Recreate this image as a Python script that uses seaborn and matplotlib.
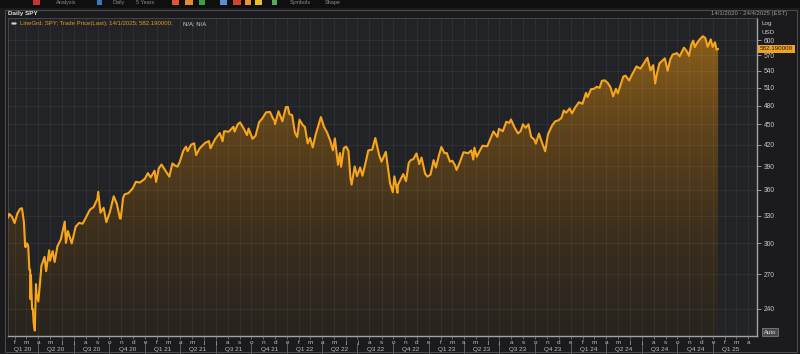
import warnings
import numpy as np
import pandas as pd
import matplotlib
matplotlib.use("Agg")
import matplotlib.pyplot as plt
import matplotlib.ticker as mticker
import matplotlib.transforms as mtransforms
from matplotlib.colors import LinearSegmentedColormap
from matplotlib.patches import Rectangle
import seaborn as sns

# ---------------- data ----------------
dates = [
    "2020-01-14", "2020-01-17", "2020-01-24", "2020-01-31", "2020-02-07", "2020-02-14", "2020-02-19",
    "2020-02-24", "2020-02-27", "2020-02-28", "2020-03-03", "2020-03-06", "2020-03-09", "2020-03-11",
    "2020-03-12", "2020-03-13", "2020-03-16", "2020-03-18", "2020-03-20", "2020-03-23", "2020-03-26",
    "2020-03-27", "2020-04-01", "2020-04-06", "2020-04-09", "2020-04-17", "2020-04-21", "2020-04-29",
    "2020-05-01", "2020-05-08", "2020-05-13", "2020-05-20", "2020-05-29", "2020-06-08", "2020-06-11",
    "2020-06-16", "2020-06-26", "2020-07-06", "2020-07-15", "2020-07-24", "2020-07-31", "2020-08-12",
    "2020-08-21", "2020-08-31", "2020-09-02", "2020-09-08", "2020-09-16", "2020-09-23", "2020-10-02",
    "2020-10-12", "2020-10-20", "2020-10-28", "2020-10-30", "2020-11-05", "2020-11-09", "2020-11-19",
    "2020-11-30", "2020-12-08", "2020-12-18", "2020-12-31",
    "2021-01-08", "2021-01-15", "2021-01-25", "2021-01-29", "2021-02-05", "2021-02-12", "2021-02-25",
    "2021-03-04", "2021-03-12", "2021-03-18", "2021-03-25", "2021-03-31", "2021-04-09", "2021-04-16",
    "2021-04-20", "2021-04-29", "2021-05-07", "2021-05-12", "2021-05-21", "2021-06-04", "2021-06-14",
    "2021-06-18", "2021-06-30", "2021-07-12", "2021-07-19", "2021-07-23", "2021-08-04", "2021-08-16",
    "2021-08-19", "2021-08-27", "2021-09-02", "2021-09-10", "2021-09-20", "2021-09-24", "2021-10-04",
    "2021-10-12", "2021-10-21", "2021-10-29", "2021-11-08", "2021-11-18", "2021-11-26", "2021-11-30",
    "2021-12-01", "2021-12-10", "2021-12-20", "2021-12-29",
    "2022-01-03", "2022-01-07", "2022-01-14", "2022-01-21", "2022-01-27", "2022-02-02", "2022-02-10",
    "2022-02-16", "2022-02-23", "2022-03-01", "2022-03-08", "2022-03-16", "2022-03-29", "2022-04-06",
    "2022-04-14", "2022-04-22", "2022-04-29", "2022-05-04", "2022-05-12", "2022-05-17", "2022-05-20",
    "2022-05-27", "2022-06-02", "2022-06-08", "2022-06-13", "2022-06-16", "2022-06-24", "2022-06-30",
    "2022-07-08", "2022-07-14", "2022-07-22", "2022-07-29", "2022-08-08", "2022-08-16", "2022-08-26",
    "2022-09-01", "2022-09-12", "2022-09-23", "2022-09-30", "2022-10-04", "2022-10-12", "2022-10-13",
    "2022-10-21", "2022-10-27", "2022-11-03", "2022-11-10", "2022-11-15", "2022-11-22", "2022-11-30",
    "2022-12-07", "2022-12-13", "2022-12-22", "2022-12-28",
    "2023-01-05", "2023-01-13", "2023-01-19", "2023-01-27", "2023-02-02", "2023-02-10", "2023-02-16",
    "2023-02-24", "2023-03-02", "2023-03-09", "2023-03-13", "2023-03-20", "2023-03-31", "2023-04-12",
    "2023-04-20", "2023-04-25", "2023-04-28", "2023-05-04", "2023-05-12", "2023-05-19", "2023-05-31",
    "2023-06-09", "2023-06-16", "2023-06-26", "2023-06-30", "2023-07-10", "2023-07-19", "2023-07-27",
    "2023-07-31", "2023-08-09", "2023-08-18", "2023-08-25", "2023-08-31", "2023-09-07", "2023-09-14",
    "2023-09-21", "2023-09-29", "2023-10-03", "2023-10-11", "2023-10-20", "2023-10-27", "2023-11-03",
    "2023-11-14", "2023-11-22", "2023-11-30", "2023-12-08", "2023-12-14", "2023-12-20", "2023-12-29",
    "2024-01-04", "2024-01-12", "2024-01-22", "2024-01-31", "2024-02-09", "2024-02-13", "2024-02-22",
    "2024-02-29", "2024-03-08", "2024-03-15", "2024-03-21", "2024-03-28", "2024-04-05", "2024-04-12",
    "2024-04-19", "2024-04-26", "2024-05-01", "2024-05-15", "2024-05-21", "2024-05-30", "2024-06-07",
    "2024-06-18", "2024-06-28", "2024-07-08", "2024-07-16", "2024-07-24", "2024-07-31", "2024-08-05",
    "2024-08-09", "2024-08-16", "2024-08-30", "2024-09-06", "2024-09-13", "2024-09-19", "2024-09-30",
    "2024-10-07", "2024-10-18", "2024-10-24", "2024-10-31", "2024-11-06", "2024-11-11", "2024-11-15",
    "2024-11-22", "2024-11-29", "2024-12-06", "2024-12-12", "2024-12-18", "2024-12-26", "2024-12-31",
    "2025-01-06", "2025-01-10", "2025-01-14",
]
prices = [
    327.5, 331.9, 328.8, 321.7, 332.2, 337.6, 338.3,
    322.4, 297.5, 296.3, 300.2, 297.5, 274.2, 274.4,
    248.1, 269.3, 239.9, 240.0, 228.8, 222.95, 261.2,
    253.4, 246.2, 264.9, 278.2, 286.6, 273.0, 293.2,
    282.8, 292.4, 281.6, 296.9, 304.3, 323.2, 300.6,
    313.0, 300.05, 317.6, 321.85, 320.9, 326.5, 336.8,
    339.5, 349.3, 357.7, 333.2, 338.8, 322.6, 333.8,
    352.4, 343.4, 326.7, 326.5, 350.2, 354.6, 356.2,
    362.1, 370.2, 369.2, 373.9,
    381.3, 375.7, 384.4, 370.1, 387.7, 392.6, 382.3,
    376.7, 394.1, 391.5, 389.7, 396.3, 411.5, 417.3,
    410.9, 420.1, 422.1, 405.4, 414.9, 422.6, 425.3,
    414.9, 428.1, 437.1, 425.0, 439.9, 439.0, 446.6,
    439.2, 450.3, 453.2, 445.4, 434.0, 443.9, 428.6,
    433.1, 453.6, 459.25, 469.0, 469.7, 459.0, 455.6,
    450.5, 470.7, 455.0, 477.5,
    477.7, 466.1, 464.7, 438.0, 431.2, 457.4, 449.3,
    446.1, 421.95, 430.0, 416.25, 435.6, 461.55, 446.5,
    437.8, 426.0, 412.0, 429.1, 392.3, 408.3, 389.6,
    415.3, 417.4, 411.2, 375.0, 366.65, 390.1, 377.3,
    388.7, 377.9, 395.1, 412.0, 413.0, 429.7, 405.3,
    396.4, 410.0, 368.0, 357.2, 377.1, 356.6, 366.0,
    374.3, 380.0, 371.0, 394.7, 398.5, 399.9, 407.7,
    393.2, 402.0, 380.7, 376.7,
    379.4, 398.5, 388.6, 405.7, 416.8, 408.0, 408.3,
    396.4, 397.8, 391.6, 385.4, 393.7, 409.4, 408.0,
    411.9, 399.4, 415.9, 403.1, 411.6, 418.6, 417.85,
    429.9, 439.5, 431.4, 443.3, 439.7, 454.2, 452.5,
    457.8, 445.75, 436.5, 440.0, 450.35, 444.85, 450.4,
    431.4, 427.5, 421.6, 436.3, 421.2, 410.7, 434.7,
    448.7, 455.0, 456.4, 460.2, 472.0, 468.3, 475.3,
    467.3, 476.7, 485.5, 482.9, 501.2, 494.1, 507.5,
    508.1, 511.7, 509.8, 522.2, 523.1, 518.4, 510.9,
    495.2, 508.3, 500.4, 529.8, 531.4, 522.6, 534.0,
    548.5, 544.2, 555.3, 564.9, 541.2, 550.8, 517.4,
    533.0, 554.3, 563.7, 540.4, 562.0, 571.0, 573.8,
    567.8, 584.6, 579.2, 568.6, 591.0, 598.8, 585.8,
    595.5, 602.6, 607.8, 604.3, 586.3, 601.3, 586.1,
    595.4, 580.5, 582.19,
]
y_ticks = [240, 270, 300, 330, 360, 390, 420, 450, 480, 510, 540, 570, 600]
month_letters = ["e", "f", "m", "a", "m", "j", "j", "a", "s", "o", "n", "d"]
x_start, x_end = "2020-01-14", "2025-04-24"
y_low, y_high = 218.9, 646.8
chart_title = "Daily SPY"
range_text = "14/1/2020 - 24/4/2025 (EST)"
legend_main = "LineGrd; SPY; Trade Price(Last); 14/1/2025; 582.190000;"
legend_tail = "N/A; N/A"
last_value = 582.19
last_label = "582.190000"

# ---------------- style ----------------
sns.set_theme(style="dark")
plt.rcParams["font.family"] = ["Liberation Sans", "DejaVu Sans"]

W, H = 800, 354
fig = plt.figure(figsize=(W / 100, H / 100), dpi=100, facecolor="#1b1b1d")

def fx(x):
    return x / W

def fy(y):
    return 1 - y / H

# toolbar strip
fig.patches.append(Rectangle((0, fy(8)), 1, 8 / H, transform=fig.transFigure,
                             facecolor="#0f0f10", edgecolor="none", zorder=0))
for x0, w, c in [(33, 7, "#c8342e"), (97, 5, "#3a78c0"), (172, 7, "#d9563a"), (185, 8, "#e08a3a"),
                 (199, 6, "#3aa04a"), (220, 7, "#5a8fd0"), (233, 8, "#d0452e"), (245, 6, "#e8963a"),
                 (255, 7, "#e8c030"), (272, 5, "#58a860")]:
    fig.patches.append(Rectangle((fx(x0), fy(5)), w / W, 5 / H, transform=fig.transFigure,
                                 facecolor=c, edgecolor="none", zorder=1))
for x0, t in [(56, "Analysis"), (113, "Daily"), (136, "5 Years"), (290, "Symbols"), (325, "Shape")]:
    fig.text(fx(x0), fy(2.5), t, fontsize=4, color="#8a8a8a", va="center", ha="left")

# outer panel frame
fig.patches.append(Rectangle((fx(5), fy(352)), (797 - 5) / W, (352 - 10) / H, transform=fig.transFigure,
                             facecolor="none", edgecolor="#4e4e50", lw=0.7, zorder=1))

# ---------------- main axes ----------------
ax = fig.add_axes([fx(8), fy(336), (757 - 8) / W, (336 - 18) / H])
ax.set_facecolor("#222327")
ax.set_yscale("log")

df = pd.DataFrame({"date": pd.to_datetime(dates), "price": prices})

sns.lineplot(data=df, x="date", y="price", ax=ax, color="#f7a61c", linewidth=1.5, zorder=5)
poly = ax.fill_between(df["date"], df["price"], 1.0, facecolor="none", edgecolor="none", zorder=1)

grad = np.linspace(0, 1, 256).reshape(-1, 1)
cmap = LinearSegmentedColormap.from_list("g", ["#27241f", "#3c2f1d", "#60441b", "#93631a"])
with warnings.catch_warnings():
    warnings.simplefilter("ignore")
    im = ax.imshow(grad, extent=[0, 1, 0, 1], transform=ax.transAxes, origin="lower",
                   cmap=cmap, aspect="auto", zorder=1.5, interpolation="bilinear")
im.set_clip_path(poly.get_paths()[0], transform=ax.transData)

ax.set_xlim(pd.Timestamp(x_start), pd.Timestamp(x_end))
ax.set_ylim(y_low, y_high)
ax.set_xlabel("")
ax.set_ylabel("")

# y axis on the right
ax.yaxis.tick_right()
ax.yaxis.set_label_position("right")
ax.yaxis.set_major_locator(mticker.FixedLocator(y_ticks))
ax.yaxis.set_major_formatter(mticker.FuncFormatter(lambda v, p: f"{int(round(v))}"))
ax.yaxis.set_minor_locator(mticker.NullLocator())
ax.tick_params(axis="y", which="major", right=True, left=False, length=3, width=0.6,
               color="#a8a8a8", labelsize=4.8, labelcolor="#c9c9c9", pad=2, direction="out")

# x axis: month letters at each month start
month_starts = pd.date_range("2020-02-01", "2025-04-01", freq="MS")
ax.set_xticks(month_starts)
ax.set_xticklabels([month_letters[d.month - 1] for d in month_starts])
ax.xaxis.set_minor_locator(mticker.NullLocator())
ax.tick_params(axis="x", which="major", bottom=True, length=2, width=0.5, color="#8a8a8a",
               labelsize=4.6, labelcolor="#bdbdbd", pad=1.2, direction="out")

ax.grid(True, which="major", axis="both", color="#ffffff", alpha=0.06, lw=0.6)
ax.set_axisbelow(False)

for s in ["left", "top"]:
    ax.spines[s].set_color("#4a4a4c")
    ax.spines[s].set_linewidth(0.6)
for s in ["right", "bottom"]:
    ax.spines[s].set_color("#a3a3a3")
    ax.spines[s].set_linewidth(1.0)

# quarter labels + separators
blend = mtransforms.blended_transform_factory(ax.transData, ax.transAxes)
xs, xe = pd.Timestamp(x_start), pd.Timestamp(x_end)
for q0 in pd.date_range("2020-01-01", "2025-01-01", freq="QS"):
    q1 = q0 + pd.offsets.QuarterBegin(startingMonth=1)
    a, b = max(q0, xs), min(q1, xe)
    mid = a + (b - a) / 2
    q = (q0.month - 1) // 3 + 1
    ax.text(mid, -0.041, f"Q{q} {q0.year % 100:02d}", transform=blend, fontsize=4.6,
            color="#bdbdbd", ha="center", va="center", clip_on=False)
for qb in pd.date_range("2020-04-01", "2025-01-01", freq="QS"):
    ax.plot([qb, qb], [-0.022, -0.058], transform=blend, color="#6a6a6a", lw=0.6, clip_on=False)

# last value tag
ytag = mtransforms.blended_transform_factory(ax.transAxes, ax.transData)
ax.text(1.004, last_value, last_label, transform=ytag, fontsize=4.5, color="#1a1a1a",
        ha="left", va="center", clip_on=False,
        bbox=dict(boxstyle="square,pad=0.25", facecolor="#f0a224", edgecolor="none"))

# header texts
fig.text(fx(8), fy(13.5), chart_title, fontsize=4.6, color="#e0e0e0", fontweight="bold", va="center")
fig.text(fx(787), fy(13.5), range_text, fontsize=4.3, color="#9a9a9a", va="center", ha="right")
fig.text(fx(761), fy(23), "Log", fontsize=4.5, color="#d0d0d0", va="center", ha="left")
fig.text(fx(761), fy(32), "USD", fontsize=4.5, color="#d0d0d0", va="center", ha="left")
fig.text(fx(770), fy(332), "Auto", fontsize=4.3, color="#dddddd", va="center", ha="center",
         bbox=dict(boxstyle="square,pad=0.25", facecolor="#4a4a4c", edgecolor="#8a8a8a", lw=0.5))

# legend line
fig.patches.append(plt.Circle((fx(14), fy(23.5)), 2.6 / W, transform=fig.transFigure,
                              facecolor="#d8d8d8", edgecolor="#8a8a8a", lw=0.4, zorder=5))
fig.text(fx(19.5), fy(24), legend_main, fontsize=4.3, color="#e69a1e", va="center", ha="left")
fig.text(fx(183), fy(24), legend_tail, fontsize=4.3, color="#d0d0d0", va="center", ha="left")

fig.savefig("out.png", dpi=100, facecolor=fig.get_facecolor())
